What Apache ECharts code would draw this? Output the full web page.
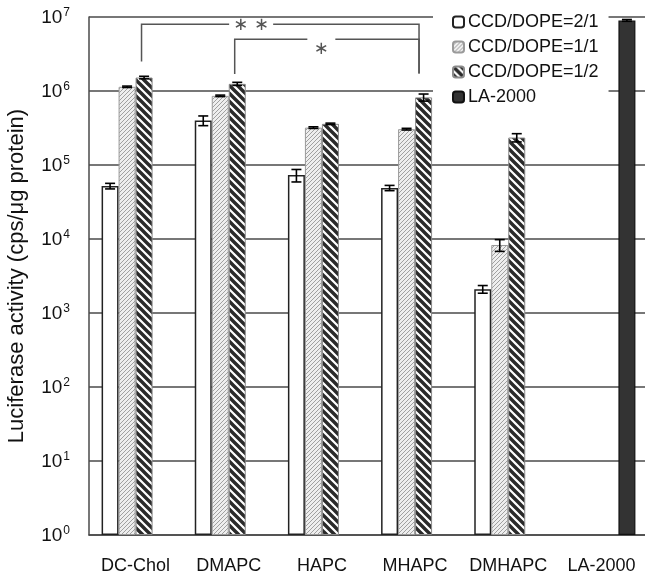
<!DOCTYPE html>
<html>
<head>
<meta charset="utf-8">
<script src="https://cdn.jsdelivr.net/npm/echarts@6/dist/echarts.min.js"></script>
<style>
html,body{margin:0;padding:0;background:#fff;}
#chart{width:645px;height:578px;}
</style>
</head>
<body>
<div id="chart"></div>
<script>
// ---------------- data ----------------
const categories = ['DC-Chol', 'DMAPC', 'HAPC', 'MHAPC', 'DMHAPC', 'LA-2000'];
const seriesNames = ['CCD/DOPE=2/1', 'CCD/DOPE=1/1', 'CCD/DOPE=1/2', 'LA-2000'];

const ratio21    = [5.2e4, 4.0e5, 7.3e4, 4.9e4, 2.1e3, null];
const ratio21Err = [4.5e3, 6.0e4, 1.4e4, 4.0e3, 2.5e2, null];
const ratio11    = [1.14e6, 8.6e5, 3.2e5, 3.05e5, 8.3e3, null];
const ratio11Err = [2.5e4, 2.0e4, 8.0e3, 8.0e3, 1.5e3, null];
const ratio12    = [1.52e6, 1.25e6, 3.6e5, 8.2e5, 2.35e5, null];
const ratio12Err = [6.0e4, 6.0e4, 8.0e3, 9.0e4, 3.0e4, null];
const la2000     = [null, null, null, null, null, 9.0e6];
const la2000Err  = [null, null, null, null, null, 2.5e5];

// significance brackets (category indices and y values)
const bracketFrom     = [0, 1];
const bracketTo       = [3, 3];
const bracketLevel    = [8.0e6, 5.0e6];
const bracketLeftEnd  = [2.5e6, 1.7e6];
const bracketRightEnd = [1.72e6, 1.72e6];
const bracketLabel    = ['∗ ∗', '∗'];

// ---------------- styles ----------------
const FONT = 'Liberation Sans, Arial, sans-serif';
const BAR_W = 17;
const GRID_COLOR = '#4a4a4a';

function makePattern(size, bg, fg, lw, dir) {
  const c = document.createElement('canvas');
  c.width = size; c.height = size;
  const g = c.getContext('2d');
  g.fillStyle = bg; g.fillRect(0, 0, size, size);
  g.strokeStyle = fg; g.lineWidth = lw; g.lineCap = 'square';
  g.beginPath();
  for (const k of [-size, 0, size]) {
    if (dir === '\\') { g.moveTo(k, 0); g.lineTo(k + size, size); }
    else { g.moveTo(k, size); g.lineTo(k + size, 0); }
  }
  g.stroke();
  return { image: c, repeat: 'repeat' };
}

const hatchFill = makePattern(4, '#eeeeee', '#a0a0a0', 1, '/');
const stripeFill = makePattern(8, '#ffffff', '#2a2a2a', 3.4, '\\');

const barStyles = [
  { color: '#ffffff', borderColor: '#222', borderWidth: 1.5 },
  { color: hatchFill, borderColor: '#9a9a9a', borderWidth: 1 },
  { color: stripeFill, borderColor: '#8a8a8a', borderWidth: 1 },
  { color: '#333333', borderColor: '#111', borderWidth: 1.2 }
];

const values = [ratio21, ratio11, ratio12, la2000];
const errors = [ratio21Err, ratio11Err, ratio12Err, la2000Err];

const barSeries = values.map((vals, s) => ({
  name: seriesNames[s],
  type: 'bar',
  data: vals.map(v => (v == null ? '-' : v)),
  barWidth: BAR_W,
  barGap: '0%',
  itemStyle: barStyles[s],
  emphasis: { disabled: true },
  z: 2
}));

// error bar data
const errData = [];
values.forEach((vals, s) => {
  vals.forEach((v, i) => {
    if (v != null) errData.push([i, v - errors[s][i], v + errors[s][i], s]);
  });
});

const errSeries = {
  type: 'custom',
  name: 'err',
  data: errData,
  encode: { x: 0, y: [1, 2] },
  z: 5,
  silent: true,
  renderItem: function (params, api) {
    const cat = api.value(0);
    const lo = api.coord([cat, api.value(1)]);
    const hi = api.coord([cat, api.value(2)]);
    const x = lo[0] + (api.value(3) - 1.5) * BAR_W;
    const cap = 5;
    const st = { stroke: '#000', lineWidth: 1.6 };
    return {
      type: 'group',
      children: [
        { type: 'line', shape: { x1: x, y1: lo[1], x2: x, y2: hi[1] }, style: st },
        { type: 'line', shape: { x1: x - cap, y1: lo[1], x2: x + cap, y2: lo[1] }, style: st },
        { type: 'line', shape: { x1: x - cap, y1: hi[1], x2: x + cap, y2: hi[1] }, style: st }
      ]
    };
  }
};

// bracket drawing style (label placement along the bracket, gap, vertical offset)
const bracketTextStyle = [
  { frac: 0.395, gap: 22, dy: 1 },
  { frac: 0.47, gap: 14, dy: 10 }
];
const bracketData = bracketFrom.map((f, k) =>
  [f, bracketLevel[k], bracketTo[k], bracketLeftEnd[k], bracketRightEnd[k], k]);

const bracketSeries = {
  type: 'custom',
  name: 'brackets',
  data: bracketData,
  encode: { x: 0, y: 1 },
  z: 6,
  silent: true,
  clip: false,
  renderItem: function (params, api) {
    const k = api.value(5);
    const off = 0.35 * BAR_W; // near the striped bar (3rd slot)
    const a = api.coord([api.value(0), api.value(1)]);
    const b = api.coord([api.value(2), api.value(1)]);
    const aEnd = api.coord([api.value(0), api.value(3)]);
    const bEnd = api.coord([api.value(2), api.value(4)]);
    const x1 = a[0] + off, x2 = b[0] + off - 2, y = a[1];
    const ts = bracketTextStyle[k];
    const cx = x1 + (x2 - x1) * ts.frac;
    const st = { stroke: '#555', lineWidth: 1.5 };
    return {
      type: 'group',
      children: [
        { type: 'polyline', shape: { points: [[x1, aEnd[1]], [x1, y], [cx - ts.gap, y]] }, style: Object.assign({ fill: null }, st) },
        { type: 'polyline', shape: { points: [[cx + ts.gap, y], [x2, y], [x2, bEnd[1]]] }, style: Object.assign({ fill: null }, st) },
        { type: 'text', style: { text: bracketLabel[k], x: cx, y: y + ts.dy, align: 'center', verticalAlign: 'middle',
          font: '18px DejaVu Sans', fill: '#555' } }
      ]
    };
  }
};

const chart = echarts.init(document.getElementById('chart'), null, { renderer: 'canvas' });
chart.setOption({
  animation: false,
  backgroundColor: '#ffffff',
  textStyle: { fontFamily: FONT, color: '#111' },
  grid: { left: 89, right: -3, top: 17, bottom: 43, containLabel: false, outerBoundsMode: 'none' },
  legend: {
    data: seriesNames,
    orient: 'vertical',
    left: 433,
    top: 8,
    padding: [4, 10, 4, 19],
    backgroundColor: '#ffffff',
    itemWidth: 11,
    itemHeight: 11,
    itemGap: 5,
    textStyle: { fontFamily: FONT, fontSize: 18, color: '#111', lineHeight: 20, padding: [0, 0, 0, -1] },
    selectedMode: false,
    z: 10
  },
  xAxis: {
    type: 'category',
    data: categories,
    axisLine: { lineStyle: { color: GRID_COLOR, width: 1.5 } },
    axisTick: { inside: true, length: 6, lineStyle: { color: GRID_COLOR, width: 1.2 } },
    axisLabel: { fontFamily: FONT, fontSize: 18, color: '#111', margin: 22, interval: 0 }
  },
  yAxis: {
    type: 'log',
    logBase: 10,
    min: 1,
    max: 1e7,
    name: 'Luciferase activity (cps/μg protein)',
    nameLocation: 'middle',
    nameGap: 61,
    nameTextStyle: { fontFamily: FONT, fontSize: 22, color: '#111' },
    axisLine: { show: true, lineStyle: { color: GRID_COLOR, width: 1.5 } },
    axisTick: { show: false },
    splitLine: { show: true, lineStyle: { color: GRID_COLOR, width: 1.5 } },
    axisLabel: {
      margin: 19,
      formatter: function (v) {
        return '{b|10}{s|' + Math.round(Math.log10(v)) + '}';
      },
      rich: {
        b: { fontFamily: FONT, fontSize: 19, color: '#111', lineHeight: 20, verticalAlign: 'bottom' },
        s: { fontFamily: FONT, fontSize: 12, color: '#111', lineHeight: 12, verticalAlign: 'top', padding: [0, 0, 0, 1] }
      }
    }
  },
  series: barSeries.concat([errSeries, bracketSeries])
});
</script>
</body>
</html>
